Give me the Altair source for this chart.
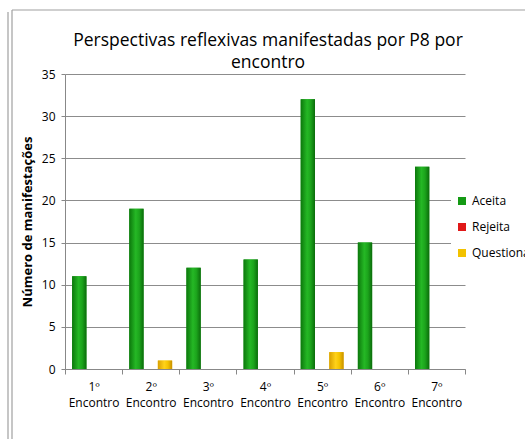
import altair as alt
import pandas as pd

encontros = ["1º Encontro", "2º Encontro", "3º Encontro", "4º Encontro",
             "5º Encontro", "6º Encontro", "7º Encontro"]
series = ["Aceita", "Rejeita", "Questiona"]
aceita = [11, 19, 12, 13, 32, 15, 24]
rejeita = [0, 0, 0, 0, 0, 0, 0]
questiona = [0, 1, 0, 0, 2, 0, 0]
colors = ["#149a14", "#e01818", "#f2c200"]
title_lines = ["Perspectivas reflexivas manifestadas por P8 por", "encontro"]

rows = []
for s, vals in zip(series, [aceita, rejeita, questiona]):
    for e, v in zip(encontros, vals):
        rows.append({"encontro": e, "serie": s, "valor": v})
df = pd.DataFrame(rows)

FONT = "Open Sans"

x = alt.X("encontro:N", sort=encontros, title=None,
          scale=alt.Scale(paddingInner=0, paddingOuter=0),
          axis=alt.Axis(labelAngle=0, labelExpr="split(datum.label, ' ')",
                        labelFont=FONT, labelFontSize=12, labelColor="#000",
                        labelLineHeight=16, labelPadding=7,
                        tickBand="extent", tickSize=5, tickColor="#888",
                        domainColor="#888"))
y = alt.Y("valor:Q", title="Número de manifestações",
          scale=alt.Scale(domain=[0, 35], nice=False),
          axis=alt.Axis(values=[0, 5, 10, 15, 20, 25, 30, 35],
                        labelFont=FONT, labelFontSize=12, labelColor="#000",
                        labelPadding=6, tickSize=4, tickColor="#888",
                        domainColor="#888", gridColor="#8c8c8c",
                        titleFont=FONT, titleFontSize=13, titleFontWeight="bold",
                        titleColor="#000", titlePadding=7))
xo = alt.XOffset("serie:N", sort=series,
                 scale=alt.Scale(domain=series, paddingInner=0, paddingOuter=0.5))

bars = alt.Chart(df).mark_bar().encode(
    x=x, y=y, xOffset=xo,
    color=alt.Color("serie:N", sort=series,
                    scale=alt.Scale(domain=series, range=colors),
                    legend=alt.Legend(title=None, orient="none", legendX=386, legendY=116,
                                      symbolType="square", symbolSize=64,
                                      symbolStrokeWidth=0,
                                      labelFont=FONT, labelFontSize=12, labelColor="#000",
                                      rowPadding=14, labelOffset=4,
                                      fillColor="white", padding=5)),
)

green_grad = alt.LinearGradient(gradient="linear", x1=0, x2=1, y1=0, y2=0, stops=[
    alt.GradientStop(color="#0c780c", offset=0),
    alt.GradientStop(color="#25b825", offset=0.45),
    alt.GradientStop(color="#1ca41c", offset=0.7),
    alt.GradientStop(color="#0b6c0b", offset=1)])
gold_grad = alt.LinearGradient(gradient="linear", x1=0, x2=1, y1=0, y2=0, stops=[
    alt.GradientStop(color="#d9a000", offset=0),
    alt.GradientStop(color="#ffd21a", offset=0.45),
    alt.GradientStop(color="#f5c400", offset=0.7),
    alt.GradientStop(color="#c89000", offset=1)])

over_a = alt.Chart(df).transform_filter(alt.datum.serie == "Aceita").mark_bar(
    fill=green_grad).encode(x=x, y=y, xOffset=xo)
over_q = alt.Chart(df).transform_filter(alt.datum.serie == "Questiona").mark_bar(
    fill=gold_grad).encode(x=x, y=y, xOffset=xo)

frame_df = pd.DataFrame({"k": [0]})
title_mark = alt.Chart(frame_df).mark_text(
    text=title_lines, font=FONT, fontSize=17.5, fontWeight="normal", color="#000",
    align="center", baseline="alphabetic", lineHeight=22).encode(
    x=alt.value(203), y=alt.value(-28))
frame1 = alt.Chart(frame_df).mark_rule(color="#a0a0a0", strokeWidth=1.2).encode(
    x=alt.value(-57), y=alt.value(-62), y2=alt.value(370))
frame2 = alt.Chart(frame_df).mark_rule(color="#a0a0a0", strokeWidth=1.2).encode(
    x=alt.value(-53), y=alt.value(-64), y2=alt.value(370))
frame3 = alt.Chart(frame_df).mark_rule(color="#a0a0a0", strokeWidth=1.2).encode(
    x=alt.value(-53), x2=alt.value(465), y=alt.value(-64))

chart = alt.layer(bars, over_a, over_q, title_mark, frame1, frame2, frame3).properties(
    width=400, height=295,
    padding={"left": 65, "top": 74, "right": 60, "bottom": 70},
    autosize=alt.AutoSizeParams(type="none"),
).configure_view(stroke=None).configure_axisX(grid=False)

chart.save("out.html", embed_options={"renderer": "svg", "actions": False})
